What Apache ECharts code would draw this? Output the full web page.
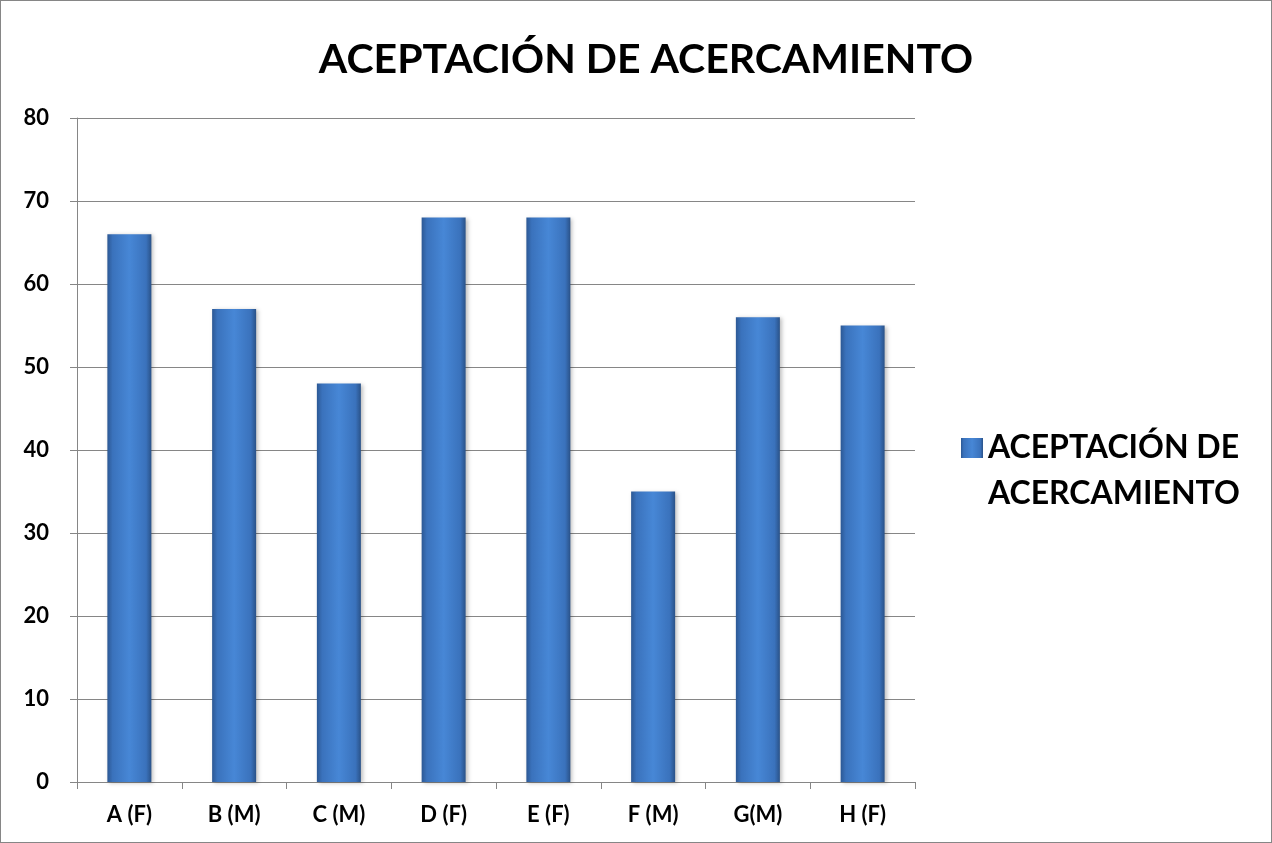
<!DOCTYPE html>
<html>
<head>
<meta charset="utf-8">
<script src="https://cdn.jsdelivr.net/npm/echarts@6/dist/echarts.min.js"></script>
<style>
  html, body { margin: 0; padding: 0; background: #fff; }
  #main { width: 1270px; height: 841px; border: 1px solid #868686; }
</style>
</head>
<body>
<div id="main"></div>
<script>
var categories = ['A (F)', 'B (M)', 'C (M)', 'D (F)', 'E (F)', 'F (M)', 'G(M)', 'H (F)'];
var values = [66, 57, 48, 68, 68, 35, 56, 55];
var seriesName = 'ACEPTACIÓN DE ACERCAMIENTO';
var yTicks = [0, 10, 20, 30, 40, 50, 60, 70, 80];

var chart = echarts.init(document.getElementById('main'));

// barra con degradado horizontal, bordes más oscuros
var barColor = new echarts.graphic.LinearGradient(0, 0, 1, 0, [
  {offset: 0, color: '#2c5894'},
  {offset: 0.12, color: '#3a72bc'},
  {offset: 0.5, color: '#4787d6'},
  {offset: 0.88, color: '#3a72bc'},
  {offset: 1, color: '#2a5288'}
]);

var option = {
  animation: false,
  textStyle: {fontFamily: 'Lato, "Open Sans", sans-serif'},
  title: {
    text: seriesName,
    top: 33,
    left: 640,
    textAlign: 'center',
    textStyle: {fontSize: 41, fontWeight: 'bold', color: '#000', fontFamily: 'Lato, "Open Sans", sans-serif'}
  },
  legend: {
    left: 960,
    top: 378,
    padding: 0,
    orient: 'vertical',
    icon: 'rect',
    itemWidth: 22,
    itemHeight: 20,
    // línea vacía arriba para que el icono quede junto a la primera línea
    formatter: function () { return ' \nACEPTACIÓN DE\nACERCAMIENTO'; },
    textStyle: {fontSize: 32, fontWeight: 'bold', color: '#000', lineHeight: 46},
    data: [seriesName]
  },
  grid: {left: 76, top: 117, width: 838, height: 664},
  xAxis: {
    type: 'category',
    data: categories,
    axisLine: {lineStyle: {color: '#868686', width: 1}},
    axisTick: {show: true, length: 7, lineStyle: {color: '#868686'}},
    axisLabel: {fontSize: 22, fontWeight: 'bold', color: '#000', margin: 22}
  },
  yAxis: {
    type: 'value',
    min: yTicks[0],
    max: yTicks[yTicks.length - 1],
    interval: 10,
    axisLine: {show: true, lineStyle: {color: '#868686', width: 1}},
    axisTick: {show: true, length: 7, lineStyle: {color: '#868686'}},
    splitLine: {lineStyle: {color: '#868686', width: 1}},
    axisLabel: {fontSize: 22, fontWeight: 'bold', color: '#000', margin: 28}
  },
  series: [{
    name: seriesName,
    type: 'bar',
    data: values,
    barWidth: 44,
    itemStyle: {color: barColor, shadowColor: 'rgba(0,0,0,0.25)', shadowBlur: 4, shadowOffsetX: 2, shadowOffsetY: 1}
  }]
};

chart.setOption(option);
</script>
</body>
</html>
